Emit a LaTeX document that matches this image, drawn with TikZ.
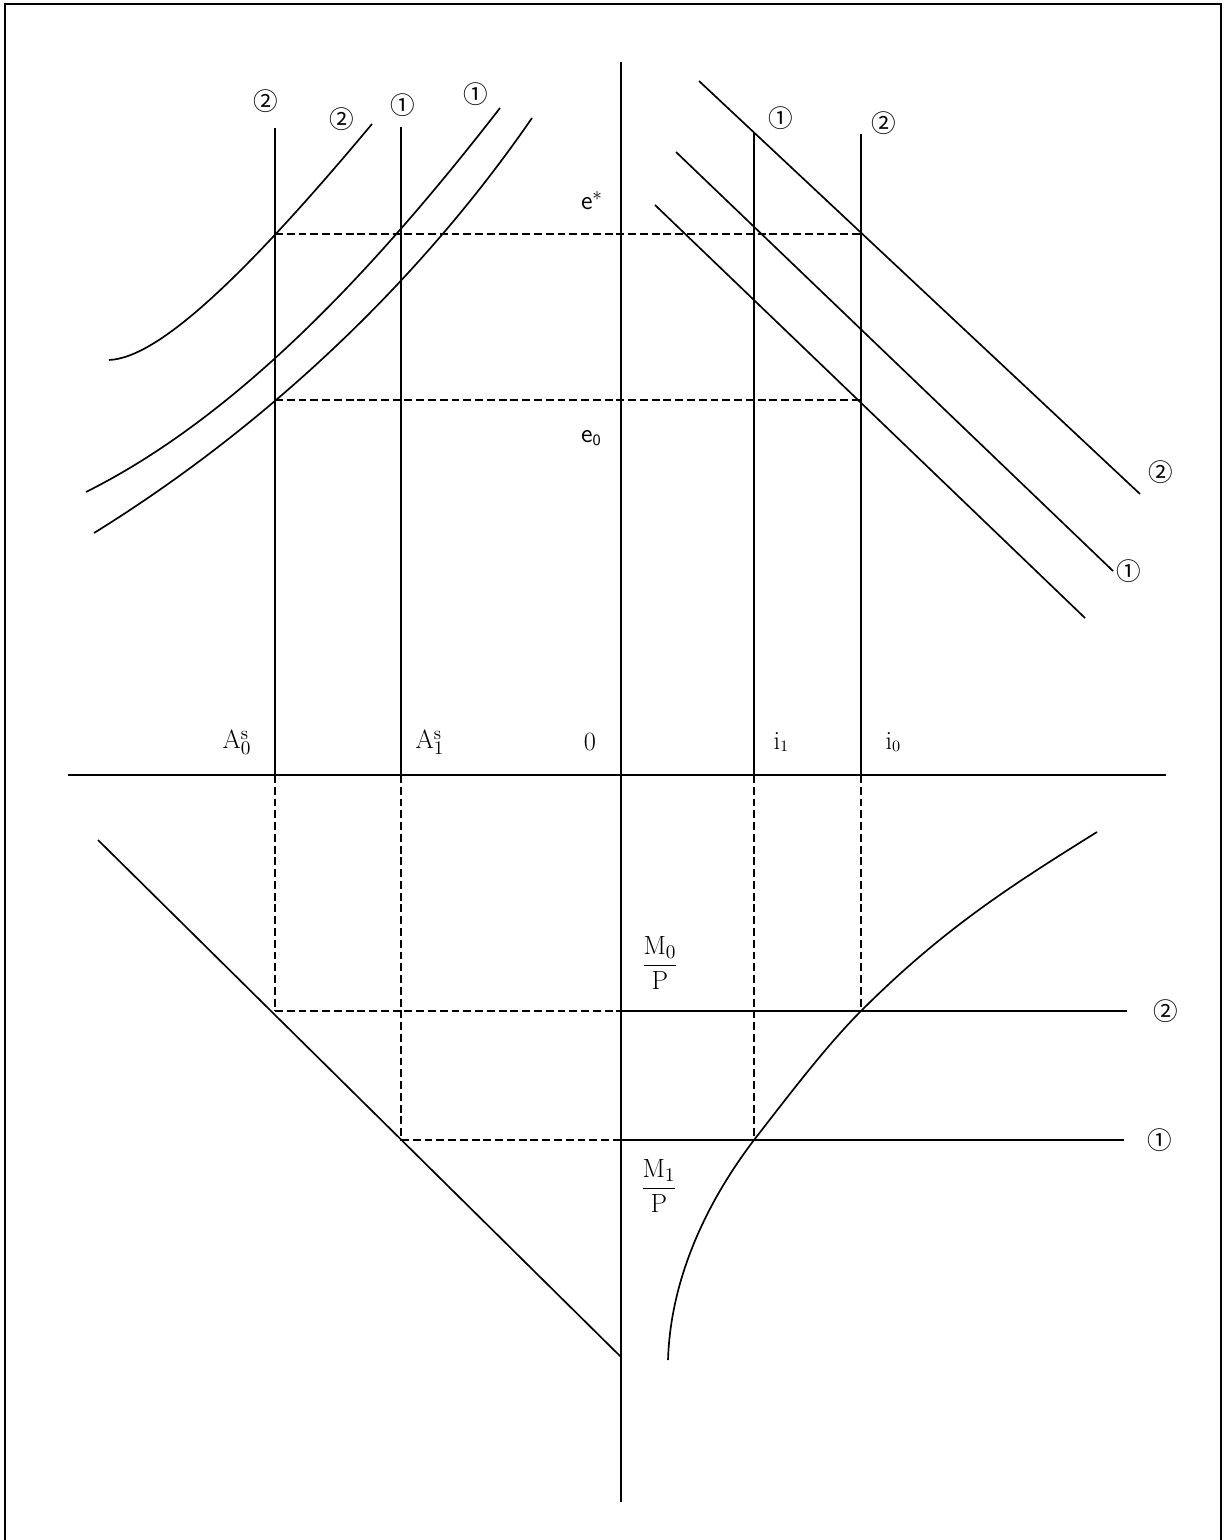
\documentclass[tikz,border=0pt]{standalone}
\usepackage{fontspec}
\newfontfamily\circfont{Noto Sans CJK JP}
\begin{document}
\begin{tikzpicture}[x=0.02cm,y=-0.02cm,
  axis/.style={line width=1.1pt},
  curve/.style={line width=0.95pt},
  guide/.style={line width=0.6pt,dash pattern=on 4.5pt off 2.2pt},
  lbl/.style={font=\fontsize{15}{17}\selectfont,inner sep=0pt},
  circ/.style={font=\circfont\fontsize{14}{16}\selectfont,inner sep=0pt}]
\useasboundingbox (0,0) rectangle (1227,1540);
% frame
\draw[line width=0.8pt] (5,1540) -- (5,4) -- (1221,4) -- (1221,1540);
% coordinates
\coordinate (ytop) at (621,62);
\coordinate (ybot) at (621,1502);
\coordinate (xl) at (68,775);
\coordinate (xr) at (1166,775);
\coordinate (a0t) at (275,128);
\coordinate (a0x) at (275,775);
\coordinate (a0m) at (275,1011);
\coordinate (a1t) at (401,127);
\coordinate (a1x) at (401,775);
\coordinate (a1m) at (401,1140);
\coordinate (i1t) at (754,132);
\coordinate (i1x) at (754,775);
\coordinate (i1m) at (754,1140);
\coordinate (i0t) at (861,134);
\coordinate (i0x) at (861,775);
\coordinate (i0m) at (861,1011);
\coordinate (es1) at (275,234);
\coordinate (es2) at (861,234);
\coordinate (e01) at (275,400);
\coordinate (e02) at (861,400);
\coordinate (m0a) at (621,1011);
\coordinate (m0b) at (1127,1011);
\coordinate (m1a) at (621,1140);
\coordinate (m1b) at (1124,1140);
% axes
\draw[axis] (ytop) -- (ybot);
\draw[axis] (xl) -- (xr);
% verticals
\draw[curve] (a0t) -- (a0x);
\draw[curve] (a1t) -- (a1x);
\draw[curve] (i1t) -- (i1x);
\draw[curve] (i0t) -- (i0x);
\draw[guide] (a0x) -- (a0m);
\draw[guide] (a1x) -- (a1m);
\draw[guide] (i1x) -- (i1m);
\draw[guide] (i0x) -- (i0m);
% horizontal guides
\draw[guide] (es1) -- (es2);
\draw[guide] (e01) -- (e02);
\draw[guide] (a0m) -- (m0a);
\draw[guide] (a1m) -- (m1a);
\draw[curve] (m0a) -- (m0b);
\draw[curve] (m1a) -- (m1b);
% top-left curves
\coordinate (u2a) at (109,360);
\coordinate (u2b) at (372,124);
\coordinate (u1a) at (86,492);
\coordinate (u1b) at (500,108);
\coordinate (u0a) at (94,533);
\coordinate (u0b) at (532,118);
\draw[curve] (u2a) .. controls (160,358) and (250,270) .. (u2b);
\draw[curve] (u1a) .. controls (236,417) and (372,273) .. (u1b);
\draw[curve] (u0a) .. controls (254,434) and (412,292) .. (u0b);
% top-right lines
\coordinate (r2a) at (699,81);
\coordinate (r2b) at (1140,494);
\coordinate (r1a) at (676,152);
\coordinate (r1b) at (1113,571);
\coordinate (r0a) at (655,205);
\coordinate (r0b) at (1085,618);
\draw[curve] (r2a) -- (r2b);
\draw[curve] (r1a) -- (r1b);
\draw[curve] (r0a) -- (r0b);
% bottom-left diagonal
\coordinate (da) at (98,840);
\coordinate (db) at (621,1357);
\draw[curve] (da) -- (db);
% bottom-right curve
\coordinate (ba) at (668,1360);
\coordinate (bb) at (1097,832);
\draw[curve] (ba) .. controls (671,1262) and (722,1182) .. (i1m)
  .. controls (789,1095) and (826,1046) .. (i0m)
  .. controls (941,931) and (1007,888) .. (bb);
% labels
\node[circ] (c1) at (266,101) {②};
\node[circ] (c2) at (342,119) {②};
\node[circ] (c3) at (403,105) {①};
\node[circ] (c4) at (476,94) {①};
\node[circ] (c5) at (781,118) {①};
\node[circ] (c6) at (884,123) {②};
\node[circ] (c7) at (1161,472) {②};
\node[circ] (c8) at (1129,571) {①};
\node[circ] (c9) at (1166,1011) {②};
\node[circ] (c10) at (1160,1140) {①};
\node[lbl] (estar) at (592,201) {\sffamily e$^{*}$};
\node[lbl] (ezero) at (591,438) {\sffamily e\raisebox{-0.3ex}{\fontsize{9}{10}\selectfont 0}};
\node[lbl] (A0) at (237,742) {A$^{\mathrm{s}}_{0}$};
\node[lbl] (A1) at (430,742) {A$^{\mathrm{s}}_{1}$};
\node[lbl] (zero) at (590,742) {0};
\node[lbl] (i1) at (781,742) {i\raisebox{-0.2ex}{\fontsize{9}{10}\selectfont 1}};
\node[lbl] (i0) at (893,742) {i\raisebox{-0.2ex}{\fontsize{9}{10}\selectfont 0}};
\node[lbl] (M0) at (660,963) {$\displaystyle\frac{\mathrm{M}_{0}}{\mathrm{P}}$};
\node[lbl] (M1) at (659,1186) {$\displaystyle\frac{\mathrm{M}_{1}}{\mathrm{P}}$};
\end{tikzpicture}
\end{document}
